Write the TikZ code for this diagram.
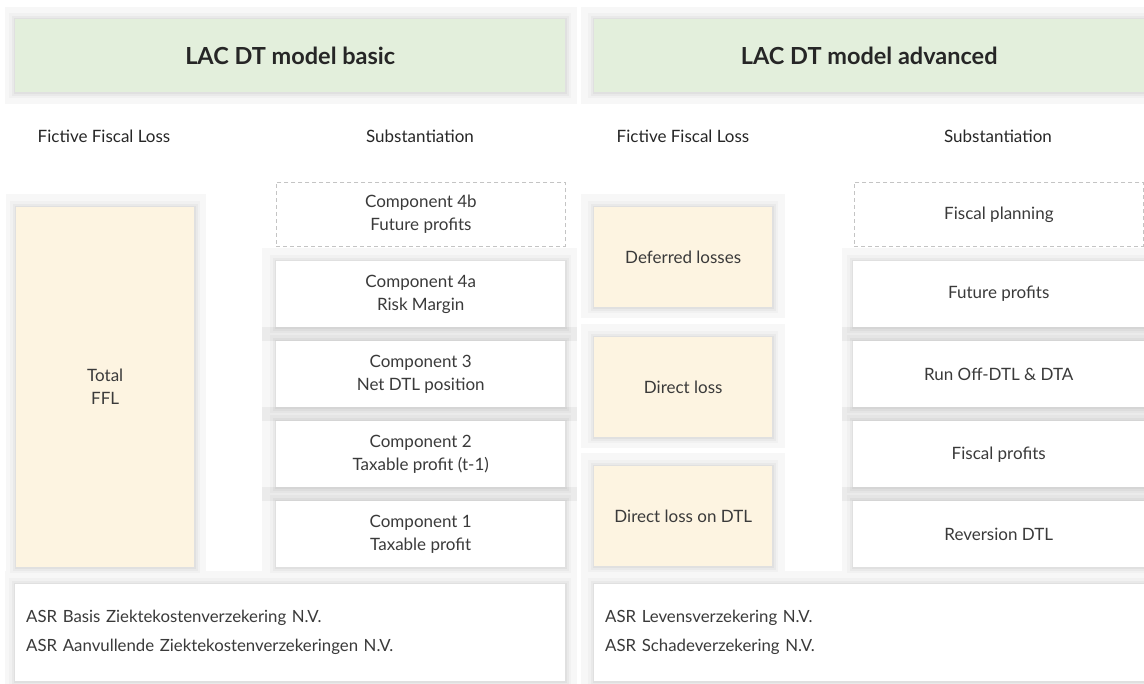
\documentclass[tikz,border=0pt]{standalone}
\usepackage{fontspec}
\setmainfont{Lato}

\definecolor{headgreen}{HTML}{E3EFDC}
\definecolor{lossyellow}{HTML}{FDF4E1}
\definecolor{panelgray}{HTML}{F7F7F7}
\definecolor{bandgray}{HTML}{EBEBEB}
\definecolor{dashgray}{HTML}{C4C4C4}
\definecolor{textgray}{HTML}{3A3A3A}

\tikzset{
  box/.style={anchor=north west, inner sep=0pt, align=center, text=textgray,
    font=\fontsize{17}{23}\selectfont},
  soft/.style={
    preaction={draw=black, draw opacity=0.025, line width=12pt},
    preaction={draw=black, draw opacity=0.03, line width=7pt},
    preaction={draw=black, draw opacity=0.035, line width=3pt}},
  whitebox/.style={box, soft, fill=white, minimum height=66},
  lossbox/.style={box, soft, fill=lossyellow, minimum width=178},
  planbox/.style={box, draw=dashgray, dash pattern=on 4pt off 3pt, line width=0.8pt,
    minimum height=64},
  titlebox/.style={box, soft, fill=headgreen, minimum width=550, minimum height=73,
    text=black!85, font=\fontsize{23.5}{27}\selectfont\bfseries},
  colhead/.style={text=black!85, font=\fontsize{17}{20}\selectfont},
  entitybox/.style={box, soft, fill=white, align=left, inner xsep=11pt,
    text width=528, minimum height=97, font=\fontsize{16.8}{29}\selectfont}
}

\begin{document}
\begin{tikzpicture}[x=1pt, y=-1pt]
    \useasboundingbox (0,0) rectangle (1144,684);

    % panels
    \fill[panelgray] (5,7) rectangle (577,104);
    \fill[panelgray] (581,7) rectangle (1144,104);
    \fill[panelgray] (6,194) rectangle (206,580);
    \fill[panelgray] (262,248) rectangle (577,580);
    \fill[panelgray] (581,194) rectangle (785,318);
    \fill[panelgray] (581,324) rectangle (785,448);
    \fill[panelgray] (581,453) rectangle (785,580);
    \fill[panelgray] (842,248) rectangle (1144,580);
    \fill[panelgray] (5,571) rectangle (577,684);
    \fill[panelgray] (581,571) rectangle (1144,684);
    \foreach \y in {327,407,487} {
      \fill[bandgray] (262,\y) rectangle (577,\y+14);
      \fill[bandgray] (842,\y) rectangle (1144,\y+14);
    }

    % titles
    \node[titlebox] (basic) at (15,19) {LAC DT model basic};
    \node[titlebox] (advanced) at (594,19) {LAC DT model advanced};
    \node[colhead] (ffl basic) at (104,136) {Fictive Fiscal Loss};
    \node[colhead] (subst basic) at (420,136) {Substantiation};
    \node[colhead] (ffl advanced) at (683,136) {Fictive Fiscal Loss};
    \node[colhead] (subst advanced) at (998,136) {Substantiation};

    % basic model
    \node[lossbox, minimum height=360] (total) at (16,207) {Total\\FFL};
    \node[planbox, minimum width=289] (comp4b) at (276,182) {Component 4b\\Future profits};
    \node[whitebox, minimum width=289] (comp4a) at (276,261) {Component 4a\\Risk Margin};
    \node[whitebox, minimum width=289] (comp3) at (276,341) {Component 3\\Net DTL position};
    \node[whitebox, minimum width=289] (comp2) at (276,421) {Component 2\\Taxable profit (t-1)};
    \node[whitebox, minimum width=289] (comp1) at (276,501) {Component 1\\Taxable profit};

    % advanced model
    \node[lossbox, minimum height=100] (deferred) at (594,207) {Deferred losses};
    \node[lossbox, minimum height=100] (direct) at (594,337) {Direct loss};
    \node[lossbox, minimum height=100] (directdtl) at (594,466) {Direct loss on DTL};
    \node[planbox, minimum width=289] (planning) at (854,182) {Fiscal planning};
    \node[whitebox, minimum width=291] (future) at (853,261) {Future profits};
    \node[whitebox, minimum width=291] (runoff) at (853,341) {Run Off-DTL \& DTA};
    \node[whitebox, minimum width=291] (fiscal) at (853,421) {Fiscal profits};
    \node[whitebox, minimum width=291] (reversion) at (853,501) {Reversion DTL};

    % entities
    \node[entitybox] (entities basic) at (15,584)
      {ASR Basis Ziektekostenverzekering N.V.\\ASR Aanvullende Ziektekostenverzekeringen N.V.};
    \node[entitybox] (entities advanced) at (594,584)
      {ASR Levensverzekering N.V.\\ASR Schadeverzekering N.V.};
  \end{tikzpicture}
\end{document}
